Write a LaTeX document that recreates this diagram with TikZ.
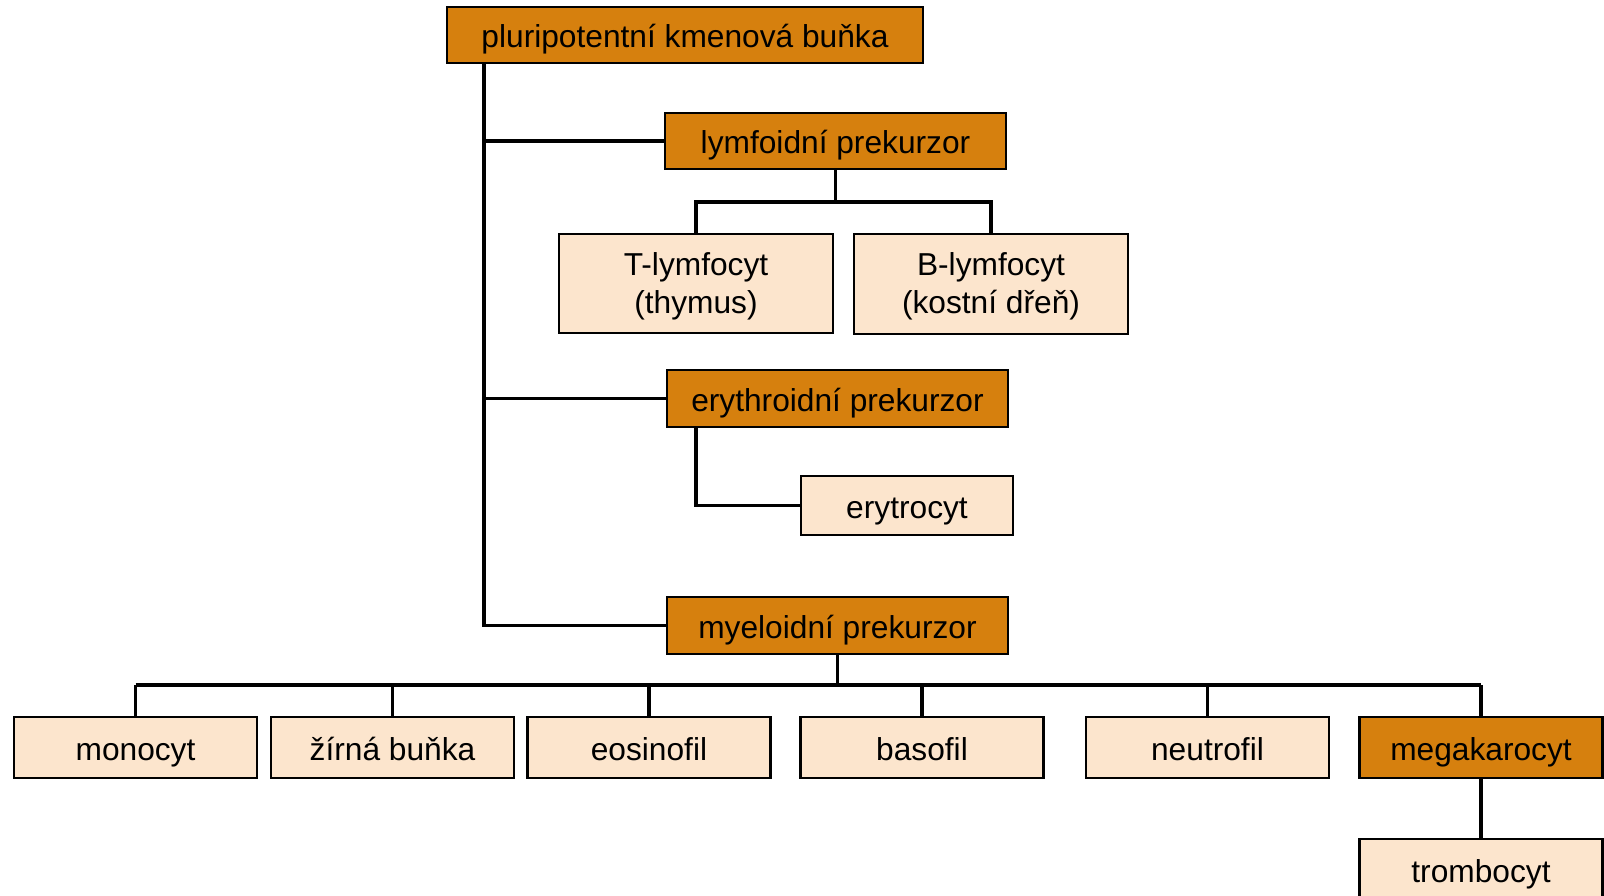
\documentclass[tikz,border=0pt]{standalone}
\usepackage{fontspec}
\setmainfont{Liberation Sans}
\usepackage{tikz}
\definecolor{darkorange}{RGB}{214,128,14}
\definecolor{lightorange}{RGB}{252,229,205}

\begin{document}
\begin{tikzpicture}[x=1pt,y=-1pt,
	box/.style={draw=black,line width=2.5pt,rectangle,inner sep=0pt,outer sep=0pt,
		minimum height=56pt,align=center,text height=28pt,text depth=3pt,
		font=\fontsize{31.7}{38}\selectfont},
	twoline/.style={text height=62pt},
	dark/.style={box,fill=darkorange},
	light/.style={box,fill=lightorange},
	link/.style={draw=black,line width=3.5pt}]
	% Page frame
	\useasboundingbox (0,0) rectangle (1604,896);
	\clip (0,0) rectangle (1604,896);
	
	% Draw the precursor boxes
	\node[dark,minimum width=476pt] (pluri) at (685,35) {pluripotentní kmenová buňka};
	\node[dark,minimum width=341pt] (lymf) at (835.5,141) {lymfoidní prekurzor};
	\node[dark,minimum width=341pt,minimum height=57pt] (eryth) at (837.5,398.5) {erythroidní prekurzor};
	\node[dark,minimum width=341pt,minimum height=57pt] (myelo) at (837.5,625.5) {myeloidní prekurzor};
	
	% Draw the lymphoid and erythroid cells
	\node[light,twoline,minimum width=274pt,minimum height=99pt] (tlym) at (696,283.5) {T-lymfocyt\\(thymus)};
	\node[light,twoline,minimum width=274pt,minimum height=100pt] (blym) at (991,284) {B-lymfocyt\\(kostní dřeň)};
	\node[light,minimum width=212pt,minimum height=59pt] (erytro) at (907,505.5) {erytrocyt};
	
	% Draw the myeloid cells
	\foreach \nm/\x/\txt in {mono/135.5/monocyt, zirna/392.5/{žírná buňka}, eosin/649/eosinofil,
		baso/922/basofil, neutro/1207.5/neutrofil}
	\node[light,minimum width=243pt,minimum height=61pt] (\nm) at (\x,747.5) {\txt};
	\node[dark,minimum width=243pt,minimum height=61pt] (mega) at (1481,747.5) {megakarocyt};
	\node[light,minimum width=243pt,minimum height=61pt] (tromb) at (1481,869.5) {trombocyt};
	
	% Main trunk
	\coordinate (trunk) at (484,0);
	\draw[link] (pluri.south -| trunk) |- (myelo.west);
	\draw[link] (trunk |- lymf.west) -- (lymf.west);
	\draw[link] (trunk |- eryth.west) -- (eryth.west);
	
	% Lymphoid branch
	\draw[link] (lymf.south) -- ++(0,33) coordinate (lbus);
	\draw[link] (tlym.north) |- (lbus) -| (blym.north);
	
	% Erythroid branch
	\draw[link] ([xshift=29pt]eryth.south west) |- (erytro.west);
	
	% Myeloid branch
	\draw[link] (myelo.south) -- ++(0,31) coordinate (mbus);
	\draw[link] (mbus -| mono.north) -- (mbus -| mega.north);
	\foreach \nm in {mono,zirna,eosin,baso,neutro,mega}
	\draw[link] (mbus -| \nm.north) -- (\nm.north);
	\draw[link] (mega.south) -- (tromb.north);
\end{tikzpicture}
\end{document}
